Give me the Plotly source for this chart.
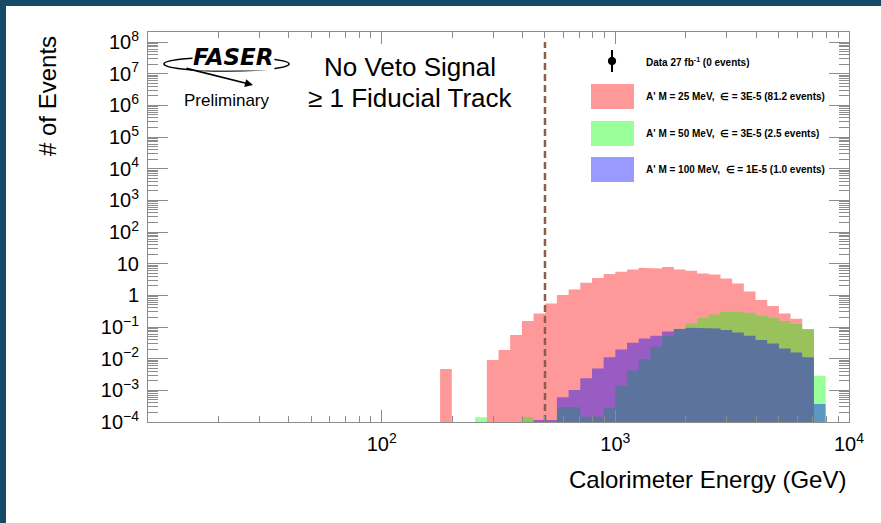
import plotly.graph_objects as go

# ---------------- data ----------------
bin_edges_log10 = [2.25, 2.30, 2.35, 2.40, 2.45, 2.50, 2.55, 2.60, 2.65, 2.70,
                   2.75, 2.80, 2.85, 2.90, 2.95, 3.00, 3.05, 3.10, 3.15, 3.20,
                   3.25, 3.30, 3.35, 3.40, 3.45, 3.50, 3.55, 3.60, 3.65, 3.70,
                   3.75, 3.80, 3.85, 3.90]

events_m25 = [4.7e-3, 0, 0, 0, 9.0e-3, 1.87e-2, 5.6e-2, 0.154, 0.269, 0.556,
              1.02, 1.54, 2.49, 3.50, 4.68, 5.55, 6.57, 7.42, 7.07, 7.78,
              6.57, 5.96, 4.91, 4.57, 3.42, 2.38, 1.33, 0.708, 0.457, 0.269,
              0.182, 0.086, 0]

events_m50 = [0, 0, 0, 1.4e-4, 0, 0, 0, 1.4e-4, 0, 0,
              2.9e-4, 2.9e-4, 1.47e-4, 1.47e-4, 2.83e-4, 1.4e-3, 4.2e-3, 9.5e-3, 2.38e-2, 5.2e-2,
              8.8e-2, 0.130, 0.196, 0.249, 0.303, 0.303, 0.282, 0.226, 0.196, 0.154,
              0.124, 0.080, 2.9e-3]

events_m100 = [0, 0, 0, 0, 0, 0, 0, 0, 1.15e-4, 1.15e-4,
               6.0e-4, 1.02e-3, 2.39e-3, 4.9e-3, 1.1e-2, 1.96e-2, 3.18e-2, 4.36e-2, 5.3e-2, 7.26e-2,
               8.6e-2, 9.5e-2, 9.0e-2, 9.0e-2, 8.0e-2, 6.76e-2, 5.3e-2, 3.87e-2, 3.03e-2, 2.11e-2,
               1.58e-2, 1.1e-2, 3.7e-4]

energy_cut_gev = 500

series_labels = [
    "A' M = 25 MeV,\u00a0\u00a0\u2208 = 3E-5 (81.2 events)",
    "A' M = 50 MeV,\u00a0\u00a0\u2208 = 3E-5 (2.5 events)",
    "A' M = 100 MeV,\u00a0\u00a0\u2208 = 1E-5 (1.0 events)",
]
data_label = "Data 27 fb<sup>-1</sup> (0 events)"

y_tick_vals = [1e-4, 1e-3, 1e-2, 1e-1, 1, 10, 1e2, 1e3, 1e4, 1e5, 1e6, 1e7, 1e8]
y_tick_text = ["10<sup>\u22124</sup>", "10<sup>\u22123</sup>", "10<sup>\u22122</sup>",
               "10<sup>\u22121</sup>", "1", "10", "10<sup>2</sup>", "10<sup>3</sup>",
               "10<sup>4</sup>", "10<sup>5</sup>", "10<sup>6</sup>", "10<sup>7</sup>",
               "10<sup>8</sup>"]
x_tick_vals = [1e2, 1e3, 1e4]
x_tick_text = ["10<sup>2</sup>", "10<sup>3</sup>", "10<sup>4</sup>"]

# ---------------- layout constants ----------------
W, H = 881, 523
L, R, T, B = 148, 32, 32, 101
PW, PH = W - L - R, H - T - B
FONT = "Liberation Sans, Arial, Helvetica, sans-serif"
AXC = "#8c8c8c"
FLOOR = 1e-7

fills = ["rgba(255,0,0,0.4)", "rgba(0,255,0,0.4)", "rgba(0,0,255,0.4)"]


def px(x):
    return (x - L) / PW


def py(y):
    return (H - B - y) / PH


def step_polygon(edges, vals):
    xs = [10 ** edges[0]]
    ys = [FLOOR]
    for i, v in enumerate(vals):
        vv = v if v > 0 else FLOOR
        xs += [10 ** edges[i], 10 ** edges[i + 1]]
        ys += [vv, vv]
    xs.append(10 ** edges[-1])
    ys.append(FLOOR)
    return xs, ys


fig = go.Figure()
for vals, col, name in zip([events_m25, events_m50, events_m100], fills, series_labels):
    xs, ys = step_polygon(bin_edges_log10, vals)
    fig.add_trace(go.Scatter(x=xs, y=ys, mode="lines", fill="toself", fillcolor=col,
                             line=dict(width=0, color=col), name=name, showlegend=False,
                             hoverinfo="skip"))

fig.add_trace(go.Scatter(x=[energy_cut_gev, energy_cut_gev], y=[1e-4, 1e8], mode="lines",
                         line=dict(color="#8b5e4b", width=2.5, dash="7px,4px"),
                         showlegend=False, hoverinfo="skip"))

shapes = []
anns = []

# dark frame strips of the slide
shapes.append(dict(type="rect", xref="paper", yref="paper", x0=px(0), x1=px(6), y0=py(H), y1=py(0),
                   fillcolor="#144b66", line=dict(width=0), layer="above"))
shapes.append(dict(type="rect", xref="paper", yref="paper", x0=px(0), x1=px(W), y0=py(6), y1=py(0),
                   fillcolor="#144b66", line=dict(width=0), layer="above"))

# legend
box_rows = [(84, 109), (121, 146), (157, 182)]
for (y0, y1), col, lab in zip(box_rows, fills, series_labels):
    shapes.append(dict(type="rect", xref="paper", yref="paper", x0=px(591), x1=px(634),
                       y0=py(y1), y1=py(y0), fillcolor=col, line=dict(width=0)))
    anns.append(dict(x=px(644), y=py((y0 + y1) / 2), xref="paper", yref="paper", text="<b>" + lab + "</b>",
                     showarrow=False, xanchor="left", yanchor="middle",
                     font=dict(family=FONT, size=10, color="black")))
# data marker
shapes.append(dict(type="line", xref="paper", yref="paper", x0=px(612), x1=px(612), y0=py(72), y1=py(50),
                   line=dict(color="black", width=2)))
shapes.append(dict(type="circle", xref="paper", yref="paper", x0=px(608.3), x1=px(615.7),
                   y0=py(64.7), y1=py(57.3), fillcolor="black", line=dict(color="black", width=1)))
anns.append(dict(x=px(644), y=py(62), xref="paper", yref="paper", text="<b>" + data_label + "</b>",
                 showarrow=False, xanchor="left", yanchor="middle",
                 font=dict(family=FONT, size=10, color="black")))

# FASER logo
shapes.append(dict(type="circle", xref="paper", yref="paper", x0=px(164), x1=px(289),
                   y0=py(71), y1=py(57), line=dict(color="black", width=1.6)))
anns.append(dict(x=px(233), y=py(57), xref="paper", yref="paper", text="<b><i>FASER</i></b>",
                 showarrow=False, xanchor="center", yanchor="middle", bgcolor="white", borderpad=0,
                 font=dict(family="DejaVu Sans, sans-serif", size=23, color="black")))
anns.append(dict(x=px(253), y=py(85), xref="paper", yref="paper", text="",
                 showarrow=True, arrowhead=2, arrowsize=1, arrowwidth=1.6, arrowcolor="black",
                 ax=-68, ay=-17))
anns.append(dict(x=px(227), y=py(100), xref="paper", yref="paper", text="Preliminary",
                 showarrow=False, xanchor="center", yanchor="middle",
                 font=dict(family=FONT, size=17, color="black")))

# selection text
anns.append(dict(x=px(410), y=py(67), xref="paper", yref="paper", text="No Veto Signal",
                 showarrow=False, xanchor="center", yanchor="middle",
                 font=dict(family=FONT, size=26, color="black")))
anns.append(dict(x=px(410), y=py(98), xref="paper", yref="paper", text="\u2265 1 Fiducial Track",
                 showarrow=False, xanchor="center", yanchor="middle",
                 font=dict(family=FONT, size=26, color="black")))

# axis titles
anns.append(dict(x=px(848), y=py(480), xref="paper", yref="paper", text="Calorimeter Energy (GeV)",
                 showarrow=False, xanchor="right", yanchor="middle",
                 font=dict(family=FONT, size=24, color="black")))
anns.append(dict(x=px(48), y=py(96), xref="paper", yref="paper", text="# of Events",
                 showarrow=False, xanchor="center", yanchor="middle", textangle=-90,
                 font=dict(family=FONT, size=24, color="black")))

axis_common = dict(showline=True, linecolor=AXC, linewidth=1, mirror="ticks", ticks="inside",
                   tickcolor=AXC, tickwidth=1, showgrid=False, zeroline=False, automargin=False,
                   tickfont=dict(family=FONT, size=20, color="black"), tickmode="array")

fig.update_layout(
    width=W, height=H,
    margin=dict(l=L, r=R, t=T, b=B),
    paper_bgcolor="white", plot_bgcolor="white",
    showlegend=False,
    xaxis=dict(type="log", range=[1, 4], tickvals=x_tick_vals, ticktext=x_tick_text, ticklen=12,
               minor=dict(ticks="inside", ticklen=6, tickcolor=AXC, dtick="D1", showgrid=False),
               ticklabelstandoff=4, **axis_common),
    yaxis=dict(type="log", range=[-4, 8.316], tickvals=y_tick_vals, ticktext=y_tick_text, ticklen=20,
               minor=dict(ticks="inside", ticklen=10, tickcolor=AXC, dtick="D1", showgrid=False),
               ticklabelstandoff=4, **axis_common),
    shapes=shapes,
    annotations=anns,
)

fig.write_html("out.html", config={"displayModeBar": False},
               post_script="document.body.style.margin='0';document.body.style.overflow='hidden';")
